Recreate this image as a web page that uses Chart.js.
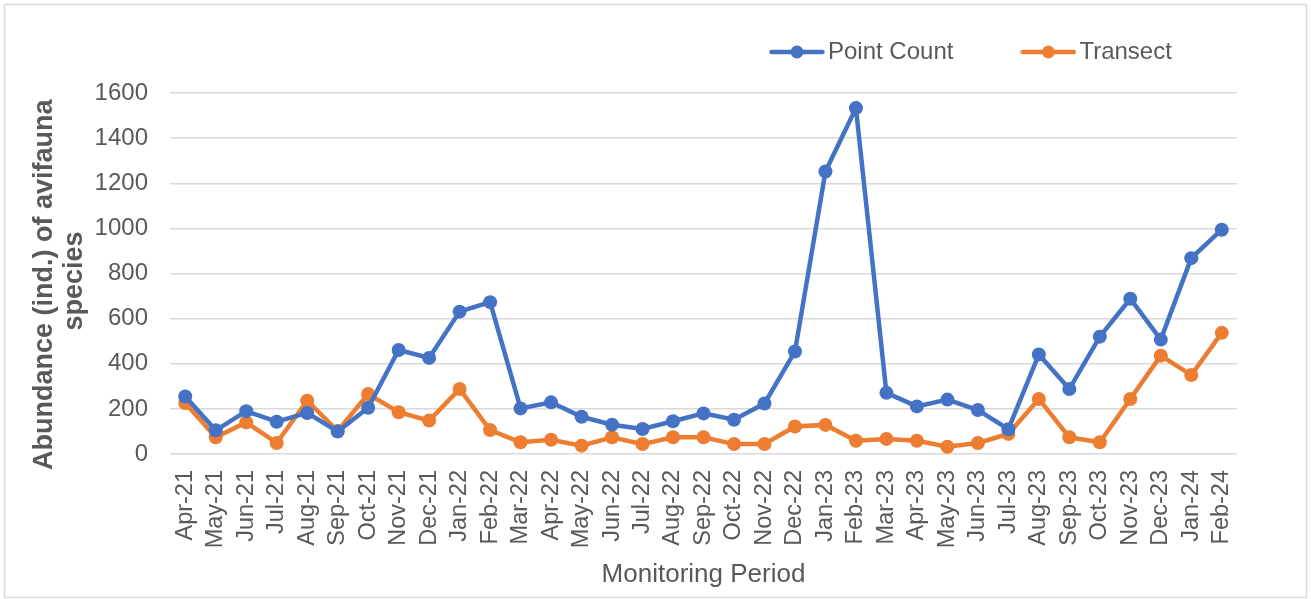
<!DOCTYPE html>
<html><head><meta charset="utf-8">
<script src="https://cdn.jsdelivr.net/npm/chart.js@4.4.1/dist/chart.umd.min.js"></script>
<style>html,body{margin:0;padding:0;background:#fff;overflow:hidden}</style>
</head><body>
<canvas id="c" width="1311" height="599"></canvas>
<script>
const months = ["Apr-21","May-21","Jun-21","Jul-21","Aug-21","Sep-21","Oct-21","Nov-21","Dec-21",
  "Jan-22","Feb-22","Mar-22","Apr-22","May-22","Jun-22","Jul-22","Aug-22","Sep-22","Oct-22","Nov-22","Dec-22",
  "Jan-23","Feb-23","Mar-23","Apr-23","May-23","Jun-23","Jul-23","Aug-23","Sep-23","Oct-23","Nov-23","Dec-23",
  "Jan-24","Feb-24"];
const pointCount = [255,105,190,143,182,100,205,461,426,
  631,673,202,229,165,130,111,145,180,152,224,454,
  1252,1533,271,211,241,195,110,441,288,520,688,507,
  868,994];
const transect = [226,74,140,49,236,102,266,185,148,
  288,106,52,63,37,74,44,74,74,44,44,122,
  129,59,67,59,32,49,89,244,74,52,244,436,
  350,537];
const yTickValues = [0,200,400,600,800,1000,1200,1400,1600];
const yTickLabels = ["0","200","400","600","800","1000","1200","1400","1600"];

const BLUE = '#4472C4', ORANGE = '#ED7D31', TXT = '#595959', GRID = '#D9D9D9';
const FONT = "'Liberation Sans', Arial, sans-serif";

function makeMarker(color){
  const c = document.createElement('canvas');
  c.width = 56; c.height = 16;
  const x = c.getContext('2d');
  x.strokeStyle = color; x.lineWidth = 4.5; x.lineCap = 'round';
  x.beginPath(); x.moveTo(2.5, 8); x.lineTo(53.5, 8); x.stroke();
  x.fillStyle = color; x.beginPath(); x.arc(28, 8, 6.5, 0, Math.PI*2); x.fill();
  return c;
}
const markers = [makeMarker(BLUE), makeMarker(ORANGE)];

const frame = {
  id: 'frame',
  beforeDraw(chart){
    const ctx = chart.ctx;
    ctx.save();
    ctx.fillStyle = '#fff'; ctx.fillRect(0,0,chart.width,chart.height);
    ctx.strokeStyle = GRID; ctx.lineWidth = 1.5;
    ctx.strokeRect(4.5, 4.5, 1302, 593);
    ctx.restore();
  }
};
const legendPos = {
  id: 'legendPos',
  afterLayout(chart){
    const lg = chart.legend; if (!lg) return;
    lg.left = 778 - 76; lg.right = 1311; lg.top = 40 - 76; lg.bottom = 90;
  }
};

new Chart(document.getElementById('c'), {
  type: 'line',
  data: {
    labels: months,
    datasets: [
      {label: 'Point Count', data: pointCount, borderColor: BLUE, backgroundColor: BLUE,
       borderWidth: 4.5, pointRadius: 7, pointBorderWidth: 0, pointBackgroundColor: BLUE, tension: 0},
      {label: 'Transect', data: transect, borderColor: ORANGE, backgroundColor: ORANGE,
       borderWidth: 4.5, pointRadius: 7, pointBorderWidth: 0, pointBackgroundColor: ORANGE, tension: 0}
    ]
  },
  options: {
    responsive: false, animation: false, devicePixelRatio: 1,
    layout: {padding: {left: 10, right: 74, top: 33, bottom: 0}},
    plugins: {
      tooltip: {enabled: false},
      legend: {
        display: true, position: 'top', align: 'start', maxHeight: 60,
        labels: {
          usePointStyle: true, pointStyleWidth: 38, padding: 76, color: TXT,
          font: {family: FONT, size: 24},
          generateLabels(chart){
            const items = Chart.defaults.plugins.legend.labels.generateLabels(chart);
            items.forEach((it, i) => { it.pointStyle = markers[i]; });
            return items;
          }
        }
      }
    },
    scales: {
      x: {
        offset: true,
        grid: {display: false, drawTicks: false},
        border: {display: false},
        ticks: {autoSkip: false, minRotation: 90, maxRotation: 90, padding: 16, color: TXT,
                font: {family: FONT, size: 23.5}},
        title: {display: true, text: 'Monitoring Period', color: TXT,
                font: {family: FONT, size: 26, lineHeight: 1.2}, padding: {top: 0, bottom: 9}},
        afterFit(s){ s.height = 145; }
      },
      y: {
        min: 0, max: 1600,
        grid: {color: GRID, lineWidth: 1.5, drawTicks: false},
        border: {display: false},
        afterBuildTicks(s){ s.ticks = yTickValues.map(v => ({value: v})); },
        ticks: {padding: 22, color: TXT, font: {family: FONT, size: 24},
                callback: (v, i) => yTickLabels[i]},
        title: {display: true, text: ['Abundance (ind.) of avifauna\u00A0\u00A0\u00A0', 'species\u00A0\u00A0'], color: TXT,
                font: {family: FONT, size: 27, weight: 'bold', lineHeight: 1.11}, padding: {top: 20, bottom: 0}},
        afterFit(s){ s.width = 160; }
      }
    }
  },
  plugins: [frame, legendPos]
});
</script>
</body></html>
